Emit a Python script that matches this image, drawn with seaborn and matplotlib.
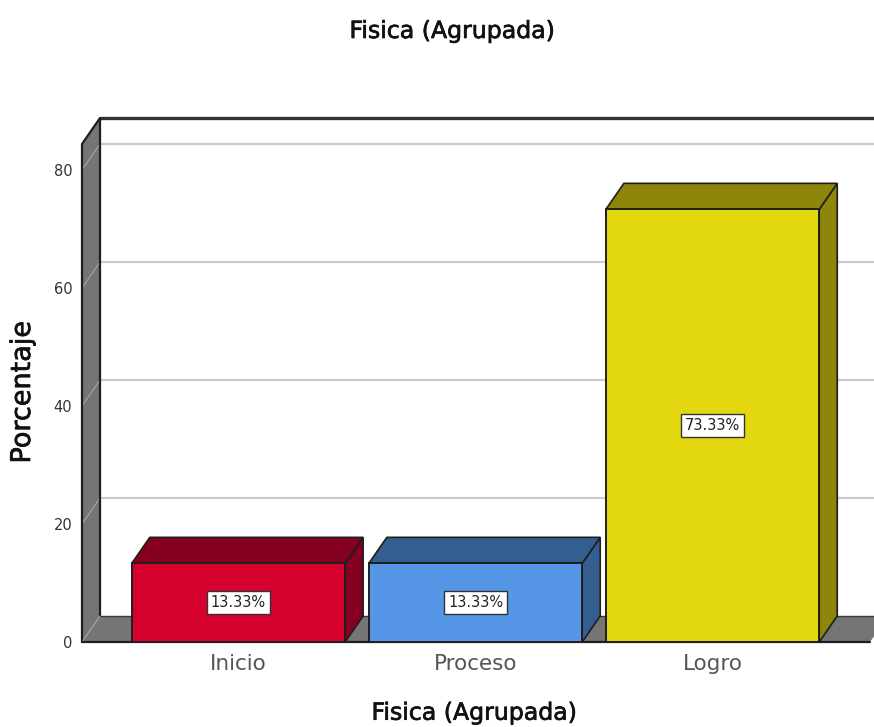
import matplotlib
matplotlib.use('Agg')
import matplotlib.pyplot as plt
import matplotlib.patheffects as pe
import pandas as pd
import seaborn as sns
from matplotlib.patches import Polygon

# Values
categories = ['Inicio', 'Proceso', 'Logro']
percentages = [13.33, 13.33, 73.33]
bar_labels = ['13.33%', '13.33%', '73.33%']
front_colors = ['#D6002D', '#5596E6', '#E3D80F']
dark_colors = ['#850020', '#355E90', '#8D860A']
y_ticks = [0, 20, 40, 60, 80]

WALL = '#757575'
GRID = '#CCCCCC'
EDGE = '#1E1E1E'
TEXT = '#333333'

sns.set_style('white')
plt.rcParams['font.family'] = ['DejaVu Sans']
fig = plt.figure(figsize=(8.74, 7.27), dpi=100)
ax = fig.add_axes([82 / 874, 85 / 727, 792 / 874, 524 / 727])

data = pd.DataFrame({'group': categories, 'pct': percentages})
sns.barplot(data=data, x='group', y='pct', hue='group', palette=front_colors,
            legend=False, width=0.9, saturation=1, edgecolor=EDGE, linewidth=1.4,
            zorder=5, ax=ax)

ax.set_xlim(-0.66, 2.681)
ax.set_ylim(0, 88.81)
xmin, xmax = ax.get_xlim()
ytop = ax.get_ylim()[1]

# 3D offset of the back plane (18px right, 26px up)
dx = 18 / 237
dy = 26 / 5.9
floor_end = xmax - 4 / 237

# left wall and floor
ax.add_patch(Polygon([(xmin, 0), (xmin + dx, dy), (xmin + dx, ytop), (xmin, ytop - dy)],
                     facecolor=WALL, edgecolor='none', zorder=1, clip_on=False))
ax.add_patch(Polygon([(xmin, 0), (xmin + dx, dy), (floor_end + dx, dy), (floor_end, 0)],
                     facecolor=WALL, edgecolor='none', zorder=1))
ax.plot([xmin, xmin, xmin + dx, xmin + dx], [0, ytop - dy, ytop, dy], color=EDGE,
        linewidth=1.6, zorder=3, clip_on=False)
ax.plot([xmin + dx, floor_end + dx], [dy, dy], color='#3A3A3A', linewidth=1.0, zorder=2)
ax.plot([xmin, xmin + dx], [0, dy], color='#A5A5A5', linewidth=0.8, zorder=3)

# back top edge
ax.plot([xmin + dx, xmax], [ytop, ytop], color='#333333', linewidth=2.4, zorder=2,
        clip_on=False, solid_capstyle='butt')
ax.plot([xmin, floor_end], [0, 0], color=EDGE, linewidth=1.6, zorder=4, clip_on=False)

# gridlines on back wall, thin slant across the side wall
for t in y_ticks[1:]:
    ax.plot([xmin + dx, xmax], [t + dy, t + dy], color=GRID, linewidth=1.6, zorder=2)
    ax.plot([xmin, xmin + dx], [t, t + dy], color='#A5A5A5', linewidth=0.8, zorder=2)

# bar side and top faces
for patch, dark, label in zip(ax.patches, dark_colors, bar_labels):
    x0 = patch.get_x()
    x1 = x0 + patch.get_width()
    h = patch.get_height()
    ax.add_patch(Polygon([(x1, 0), (x1 + dx, dy), (x1 + dx, h + dy), (x1, h)],
                         facecolor=dark, edgecolor=EDGE, linewidth=1.2, zorder=4))
    ax.add_patch(Polygon([(x0, h), (x0 + dx, h + dy), (x1 + dx, h + dy), (x1, h)],
                         facecolor=dark, edgecolor=EDGE, linewidth=1.2, zorder=4))
    ax.text((x0 + x1) / 2, h / 2, label, ha='center', va='center', fontsize=10.5,
            color='#222222', zorder=6,
            bbox=dict(boxstyle='square,pad=0.28', facecolor='white', edgecolor='#333333', linewidth=1))

ax.set_yticks(y_ticks)
ax.tick_params(axis='y', length=0, pad=7, labelsize=10.5, labelcolor=TEXT)
ax.tick_params(axis='x', length=0, pad=9, labelsize=15.5, labelcolor='#555555')
sns.despine(ax=ax, left=True, bottom=True, top=True, right=True)

heavy = [pe.withStroke(linewidth=0.5, foreground='#111111')]
ax.set_xlabel('Fisica (Agrupada)', fontsize=17, color='#111111', va='center', path_effects=heavy)
ax.xaxis.set_label_coords(0.495, -0.135)
ax.set_ylabel('Porcentaje', fontsize=19.5, color='#111111', va='center', path_effects=heavy)
ax.yaxis.set_label_coords(-59 / 792, 0.477)
fig.text(452 / 874, 1 - 31 / 727, 'Fisica (Agrupada)', ha='center', va='center',
         fontsize=17, color='#111111', path_effects=heavy)

fig.savefig('out.png', dpi=100)
